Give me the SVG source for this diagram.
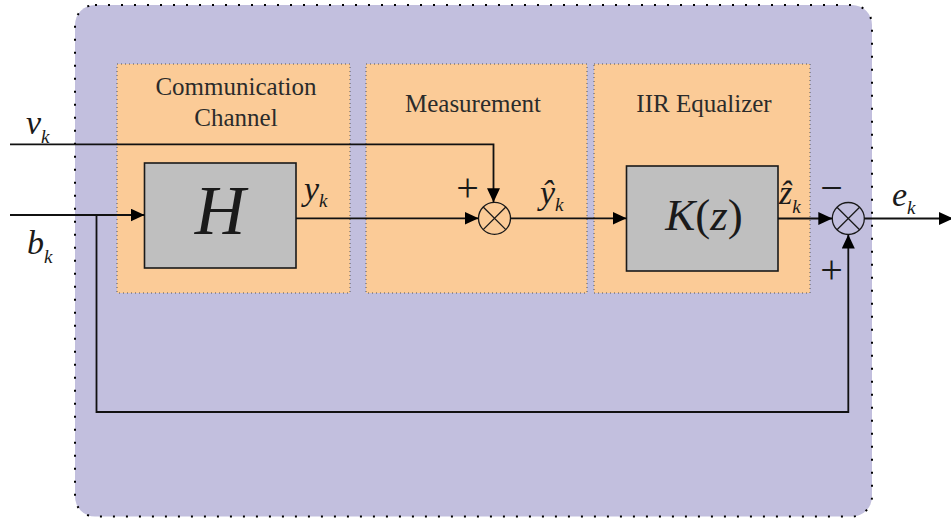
<svg xmlns="http://www.w3.org/2000/svg" width="951" height="519" viewBox="0 0 951 519">
<defs>
<marker id="arr" markerUnits="userSpaceOnUse" markerWidth="15" markerHeight="14" refX="14" refY="6.5" orient="auto">
<path d="M0,0 L14,6.5 L0,13 z" fill="#000"/>
</marker>
<style>
.frame{fill:#C2BFDE;stroke:#000;stroke-width:2;stroke-dasharray:2 11}
.sec{fill:#FBCB97;stroke:#555;stroke-width:1;stroke-dasharray:1 3}
.blk{fill:#BFBFBF;stroke:#1a1a1a;stroke-width:1.6}
.sum{fill:none;stroke:#1a1a1a;stroke-width:1.3}
.wire{fill:none;stroke:#111;stroke-width:1.8}
.title{font-family:"Liberation Serif","DejaVu Serif",serif;font-size:25px;fill:#2b2b2b;text-anchor:middle}
.m{font-family:"Liberation Serif","DejaVu Serif",serif;font-style:italic;fill:#1a1a1a;font-size:34px}
.sub{font-size:19px}
.op{font-family:"Liberation Serif","DejaVu Serif",serif;fill:#1a1a1a;text-anchor:middle;font-size:40px}
</style>
</defs>
<g id="frame"><rect class="frame" x="75" y="5" width="797" height="511.5" rx="20" ry="20"/></g>
<g id="channel">
<rect class="sec" x="117" y="64" width="233" height="229"/>
<text class="title" x="236" y="95">Communication</text>
<text class="title" x="236" y="126">Channel</text>
</g>
<g id="measurement">
<rect class="sec" x="366" y="64" width="221" height="229"/>
<text class="title" x="473" y="112">Measurement</text>
</g>
<g id="equalizer">
<rect class="sec" x="594" y="64" width="216" height="229"/>
<text class="title" x="704" y="112">IIR Equalizer</text>
</g>
<g id="H">
<rect class="blk" x="144.5" y="163" width="151.5" height="105"/>
<text x="220" y="234" font-size="70" text-anchor="middle" font-style="italic" font-family="Liberation Serif, DejaVu Serif, serif" fill="#1a1a1a">H</text>
</g>
<g id="K">
<rect class="blk" x="626.5" y="166" width="151.5" height="105"/>
<text x="704" y="230" font-size="45" text-anchor="middle" font-family="Liberation Serif, DejaVu Serif, serif" fill="#1a1a1a"><tspan font-style="italic">K</tspan>(<tspan font-style="italic">z</tspan>)</text>
</g>
<g id="sum1">
<circle class="sum" cx="494.5" cy="218.3" r="16"/>
<path class="sum" d="M483.2,207 L505.8,229.6 M505.8,207 L483.2,229.6"/>
</g>
<g id="sum2">
<circle class="sum" cx="848.3" cy="218.5" r="16"/>
<path class="sum" d="M837,207.2 L859.6,229.8 M859.6,207.2 L837,229.8"/>
</g>
<g id="connectors">
<path class="wire" d="M10,144.3 H493.5 V202.3" marker-end="url(#arr)"/>
<path class="wire" d="M10,215 H144.5" marker-end="url(#arr)"/>
<path class="wire" d="M296,218.3 H478.5" marker-end="url(#arr)"/>
<path class="wire" d="M510.5,218.3 H626.5" marker-end="url(#arr)"/>
<path class="wire" d="M778,218.5 H832.3" marker-end="url(#arr)"/>
<path class="wire" d="M864.3,218.5 H953" marker-end="url(#arr)"/>
<path class="wire" d="M96.5,215 V412 H848.3 V234.5" marker-end="url(#arr)"/>
</g>
<g id="labels">
<text class="m" x="26" y="134">v<tspan class="sub" dy="9">k</tspan></text>
<text class="m" x="27" y="254">b<tspan class="sub" dy="9">k</tspan></text>
<text class="m" x="304" y="200">y<tspan class="sub" dy="7">k</tspan></text>
<text class="m" x="540" y="204">ŷ<tspan class="sub" dy="7">k</tspan></text>
<text class="m" x="779" y="204">ẑ<tspan class="sub" dy="9">k</tspan></text>
<text class="m" x="892" y="206">e<tspan class="sub" dy="8">k</tspan></text>
<text class="op" x="467.5" y="201">+</text>
<text class="op" x="831.5" y="201">−</text>
<text class="op" x="831.5" y="283">+</text>
</g>
</svg>
